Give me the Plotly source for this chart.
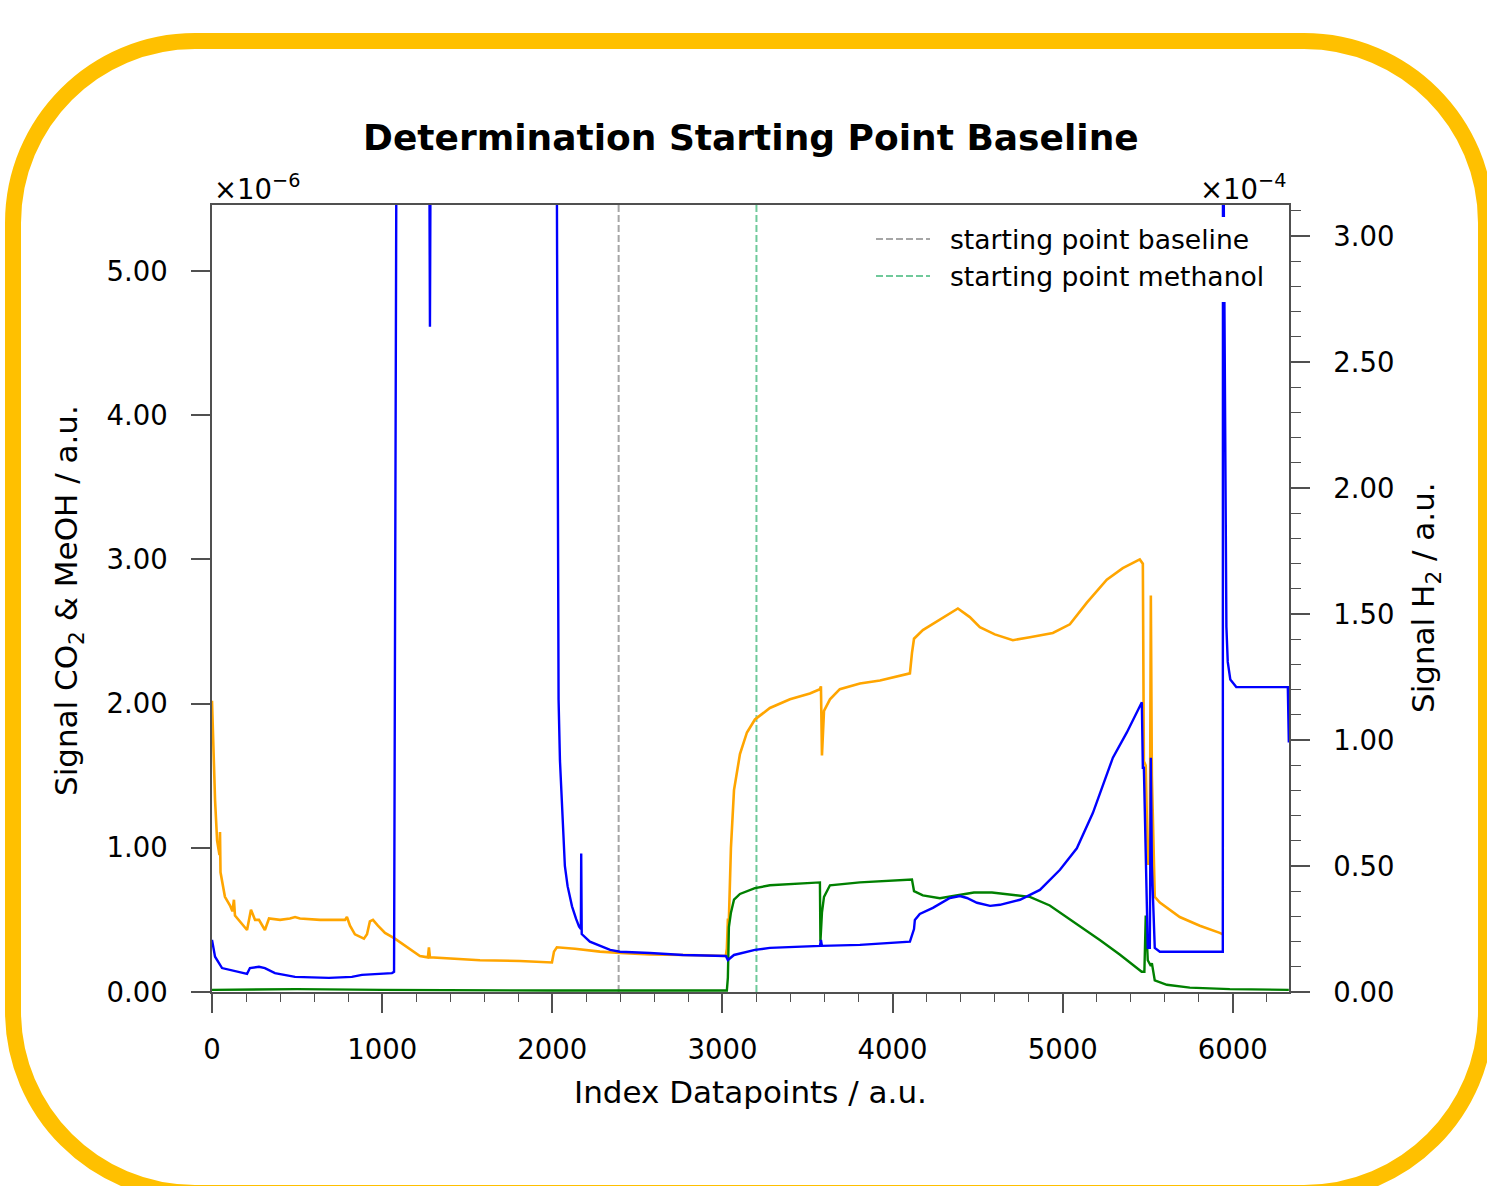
import plotly.graph_objects as go

# ---------------- data ----------------
# Signal CO2 (orange), left axis, units of 1e-6
co2_idx = [0, 12, 18, 30, 44, 47, 50, 76, 106, 120, 129, 135, 165, 206, 229, 253, 276, 311, 335,
           400, 458, 488, 517, 635, 782, 793, 811, 840, 893, 911, 928, 946, 975, 1017, 1075, 1134,
           1175, 1222, 1269, 1275, 1281, 1369, 1575, 1810, 1998, 2010, 2027, 2133, 2280, 2398,
           2574, 2868, 3020, 3026, 3032, 3038, 3050, 3068, 3103, 3144, 3191, 3279, 3397, 3514,
           3573, 3579, 3585, 3597, 3632, 3690, 3808, 3926, 4102, 4114, 4126, 4178, 4278, 4384,
           4454, 4513, 4601, 4707, 4807, 4942, 5042, 5142, 5259, 5353, 5453, 5471, 5477, 5488,
           5500, 5512, 5518, 5524, 5541, 5571, 5688, 5806, 5923, 5941]
co2_val = [2.02, 1.50, 1.33, 1.05, 0.95, 1.11, 0.83, 0.66, 0.60, 0.56, 0.64, 0.53, 0.49, 0.43, 0.57,
           0.50, 0.50, 0.43, 0.51, 0.50, 0.51, 0.52, 0.51, 0.50, 0.50, 0.52, 0.46, 0.40, 0.37, 0.40,
           0.49, 0.50, 0.46, 0.41, 0.37, 0.32, 0.29, 0.25, 0.24, 0.31, 0.24, 0.235, 0.22, 0.215,
           0.205, 0.28, 0.31, 0.30, 0.28, 0.27, 0.26, 0.255, 0.25, 0.30, 0.50, 0.50, 1.00, 1.40,
           1.65, 1.80, 1.89, 1.97, 2.03, 2.07, 2.10, 2.12, 1.64, 1.95, 2.03, 2.10, 2.14, 2.16, 2.21,
           2.35, 2.45, 2.51, 2.58, 2.66, 2.60, 2.53, 2.48, 2.44, 2.46, 2.49, 2.55, 2.70, 2.86, 2.94,
           3.00, 2.97, 1.60, 1.57, 0.89, 0.89, 2.75, 1.50, 0.66, 0.62, 0.52, 0.46, 0.41, 0.40]

# Signal MeOH (green), left axis, units of 1e-6
meoh_idx = [0, 500, 1000, 1500, 2000, 2500, 3026, 3032, 3038, 3050, 3068, 3103, 3144, 3191, 3279,
            3397, 3573, 3576, 3585, 3597, 3632, 3808, 4102, 4114, 4126, 4178, 4278, 4378, 4478,
            4584, 4807, 4924, 5100, 5218, 5335, 5464, 5480, 5488, 5500, 5518, 5524, 5541, 5612,
            5747, 5982, 6329]
meoh_val = [0.015, 0.02, 0.015, 0.01, 0.01, 0.01, 0.01, 0.10, 0.45, 0.55, 0.64, 0.68, 0.70, 0.72,
            0.74, 0.75, 0.76, 0.35, 0.55, 0.66, 0.74, 0.76, 0.78, 0.78, 0.70, 0.67, 0.65, 0.67, 0.69,
            0.69, 0.66, 0.60, 0.46, 0.36, 0.26, 0.14, 0.14, 0.53, 0.22, 0.18, 0.20, 0.08, 0.05, 0.03,
            0.02, 0.015]

# Signal H2 (blue), right axis, units of 1e-4
h2_idx = [0, 18, 59, 206, 223, 276, 311, 370, 488, 687, 822, 881, 1058, 1070, 1085, 1276, 1281,
          1286, 2025, 2030, 2037, 2045, 2057, 2065, 2074, 2090, 2116, 2140, 2157, 2168, 2170, 2173,
          2221, 2340, 2398, 2574, 2768, 3020, 3032, 3068, 3191, 3279, 3444, 3573, 3579, 3585,
          3808, 4102, 4126, 4131, 4160, 4237, 4337, 4396, 4437, 4496, 4573, 4631, 4749, 4866,
          4984, 5083, 5177, 5295, 5377, 5465, 5471, 5477, 5500, 5512, 5518, 5524, 5541, 5571,
          5941, 5942, 5948, 5955, 5962, 5970, 5985, 6020, 6323, 6329]
h2_val = [0.207, 0.14, 0.095, 0.072, 0.095, 0.10, 0.095, 0.075, 0.06, 0.056, 0.06, 0.068, 0.075,
          0.08, 3.6, 3.6, 2.64, 3.6, 3.6, 2.2, 1.16, 0.92, 0.76, 0.62, 0.50, 0.42, 0.34, 0.29, 0.26,
          0.25, 0.55, 0.23, 0.20, 0.167, 0.16, 0.155, 0.147, 0.143, 0.127, 0.147, 0.167, 0.175,
          0.18, 0.183, 0.207, 0.183, 0.187, 0.20, 0.25, 0.286, 0.31, 0.334, 0.373, 0.381, 0.373,
          0.354, 0.342, 0.346, 0.366, 0.405, 0.485, 0.57, 0.71, 0.93, 1.03, 1.15, 0.89, 0.89,
          0.175, 0.175, 0.93, 0.50, 0.175, 0.16, 0.16, 3.6, 3.0, 1.9, 1.45, 1.31, 1.24, 1.21, 1.21,
          0.99]

baseline_start = 2390
methanol_start = 3200
legend_labels = ["starting point baseline", "starting point methanol"]

x_ticks = [0, 1000, 2000, 3000, 4000, 5000, 6000]
y_left_ticks = [0, 1, 2, 3, 4, 5]
y_right_ticks = [0, 0.5, 1.0, 1.5, 2.0, 2.5, 3.0]

x_range = [0, 6330]
y_left_range = [0, 5.458]
y_right_range = [0, 3.123]

# ---------------- layout geometry ----------------
W, H = 1487, 1186
L, R, T, B = 212, 1289, 205, 992
FONT = "DejaVu Sans"
AX = "#505050"


def px(x):
    return (x - L) / (R - L)


def py(y):
    return (B - y) / (B - T)


fig = go.Figure()
fig.add_trace(go.Scatter(x=co2_idx, y=co2_val, mode="lines", line=dict(color="#FFA500", width=2.6),
                         showlegend=False, hoverinfo="skip"))
fig.add_trace(go.Scatter(x=meoh_idx, y=meoh_val, mode="lines", line=dict(color="#008000", width=2.4),
                         showlegend=False, hoverinfo="skip"))
fig.add_trace(go.Scatter(x=h2_idx, y=h2_val, mode="lines", line=dict(color="#0000FF", width=2.4),
                         yaxis="y2", showlegend=False, hoverinfo="skip"))

shapes = []
# vertical starting point lines
for xv, col in [(baseline_start, "#a6a6a6"), (methanol_start, "#6fc99a")]:
    shapes.append(dict(type="line", xref="x", yref="paper", x0=xv, x1=xv, y0=0, y1=1,
                       line=dict(color=col, width=2, dash="7px,3px"), layer="below"))

# legend background + samples
shapes.append(dict(type="rect", xref="paper", yref="paper", x0=px(866), x1=px(1277),
                   y0=py(302), y1=py(217), fillcolor="white", line=dict(width=0), layer="above"))
for rowy, col in [(239, "#a6a6a6"), (276, "#6fc99a")]:
    shapes.append(dict(type="line", xref="paper", yref="paper", x0=px(876), x1=px(930),
                       y0=py(rowy), y1=py(rowy), line=dict(color=col, width=2, dash="7px,3px"),
                       layer="above"))

# rounded yellow frame
x0, y0, x1, y1, r = 13, 41, 1486, 1193, 182
k = 0.5523 * r


def P(a, b):
    return f"{px(a):.5f},{py(b):.5f}"


path = (f"M{P(x0 + r, y0)} L{P(x1 - r, y0)} C{P(x1 - r + k, y0)} {P(x1, y0 + r - k)} {P(x1, y0 + r)} "
        f"L{P(x1, y1 - r)} C{P(x1, y1 - r + k)} {P(x1 - r + k, y1)} {P(x1 - r, y1)} "
        f"L{P(x0 + r, y1)} C{P(x0 + r - k, y1)} {P(x0, y1 - r + k)} {P(x0, y1 - r)} "
        f"L{P(x0, y0 + r)} C{P(x0, y0 + r - k)} {P(x0 + r - k, y0)} {P(x0 + r, y0)} Z")
shapes.append(dict(type="path", xref="paper", yref="paper", path=path,
                   line=dict(color="#FFC000", width=16), layer="above"))

annotations = [
    dict(text="<b>Determination Starting Point Baseline</b>", x=px(750.5), y=py(137),
         font=dict(size=36, family=FONT, color="black")),
    dict(text="Index Datapoints / a.u.", x=px(750.5), y=py(1092),
         font=dict(size=31, family=FONT, color="black")),
    dict(text="Signal CO<sub>2</sub> & MeOH / a.u.", x=px(68), y=py(601), textangle=-90,
         font=dict(size=31, family=FONT, color="black")),
    dict(text="Signal H<sub>2</sub> / a.u.", x=px(1425), y=py(598), textangle=-90,
         font=dict(size=31, family=FONT, color="black")),
    dict(text="×10<sup>−6</sup>", x=px(212), y=py(207), xanchor="left", yanchor="bottom",
         font=dict(size=27.5, family=FONT, color="black")),
    dict(text="×10<sup>−4</sup>", x=px(1288), y=py(207), xanchor="right", yanchor="bottom",
         font=dict(size=27.5, family=FONT, color="black")),
]
for label, rowy in zip(legend_labels, [239, 276]):
    annotations.append(dict(text=label, x=px(948), y=py(rowy), xanchor="left", yanchor="middle",
                            font=dict(size=26.6, family=FONT, color="black")))
for a in annotations:
    a.update(xref="paper", yref="paper", showarrow=False)
    a.setdefault("xanchor", "center")
    a.setdefault("yanchor", "middle")

axis_common = dict(showline=True, linecolor=AX, linewidth=1.5, ticks="outside", ticklen=19,
                   tickwidth=1.5, tickcolor=AX, showgrid=False, zeroline=False,
                   tickfont=dict(size=27.5, family=FONT, color="black"))

fig.update_layout(
    width=W, height=H,
    margin=dict(l=L, r=W - R, t=T, b=H - B, pad=0),
    paper_bgcolor="white", plot_bgcolor="white",
    showlegend=False,
    xaxis=dict(range=x_range, tickvals=x_ticks, mirror=True, ticklabelstandoff=13,
               minor=dict(ticks="outside", ticklen=8, dtick=200, tick0=0, tickcolor=AX, tickwidth=1.2),
               **axis_common),
    yaxis=dict(range=y_left_range, tickvals=y_left_ticks, tickformat=".2f", mirror=True,
               ticklabelstandoff=18, **axis_common),
    yaxis2=dict(range=y_right_range, tickvals=y_right_ticks, tickformat=".2f", overlaying="y",
                side="right", ticklabelstandoff=18,
                minor=dict(ticks="outside", ticklen=10, dtick=0.1, tick0=0, tickcolor=AX, tickwidth=1.2),
                **axis_common),
    shapes=shapes,
    annotations=annotations,
)

fig.write_html("out.html")
